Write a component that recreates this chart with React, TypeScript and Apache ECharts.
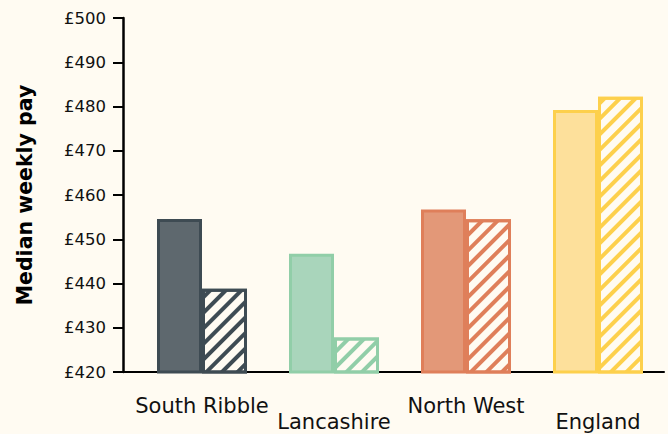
import React, { useEffect, useRef } from "react";
import * as echarts from "echarts";

// Median weekly pay by area, two periods per area
const categories = ["South Ribble", "Lancashire", "North West", "England"];
const paySolid = [454.6, 446.7, 456.7, 479.2];
const payHatched = [438.8, 427.8, 454.5, 482.2];
const yTicks = { min: 420, max: 500, interval: 10 };

const fillColors = ["#5e686e", "#a9d5bb", "#e39878", "#fde09b"];
const strokeColors = ["#3e4b53", "#91cea8", "#df7f5a", "#fdd04c"];
const BG = "#fffbf2";
const FONT = "DejaVu Sans";

export default function App() {
  const ref = useRef<HTMLDivElement>(null);

  useEffect(() => {
    document.body.style.margin = "0";
    document.body.style.background = BG;
    if (!ref.current) return;
    const chart = echarts.init(ref.current, undefined, { renderer: "svg" });

    const gridLeft = 136;
    const gridTop = 18;
    const gridBottom = 62;
    const axisOffset = 13;

    chart.setOption({
      animation: false,
      backgroundColor: BG,
      textStyle: { fontFamily: FONT },
      grid: { left: gridLeft, right: 4, top: gridTop, bottom: gridBottom },
      xAxis: {
        type: "category",
        data: categories,
        axisLine: { show: true, lineStyle: { color: "#000", width: 2 } },
        axisTick: { show: false },
        axisLabel: {
          color: "#111",
          fontSize: 21,
          fontFamily: FONT,
          margin: 26,
          lineHeight: 16,
          interval: 0,
          formatter: (v: string, i: number) => (i % 2 === 1 ? "\n" + v : v),
        },
      },
      yAxis: {
        type: "value",
        min: yTicks.min,
        max: yTicks.max,
        interval: yTicks.interval,
        offset: axisOffset,
        name: "Median weekly pay",
        nameLocation: "middle",
        nameGap: 88,
        nameRotate: 90,
        nameTextStyle: {
          color: "#000",
          fontSize: 20.5,
          fontWeight: "bold",
          fontFamily: FONT,
        },
        axisLine: { show: true, lineStyle: { color: "#000", width: 2.5 } },
        axisTick: { show: true, length: 10, lineStyle: { color: "#000", width: 2 } },
        axisLabel: {
          color: "#111",
          fontSize: 16.5,
          fontFamily: FONT,
          margin: 17,
          formatter: (v: number) => "£" + v,
        },
        splitLine: { show: false },
      },
      graphic: [
        {
          type: "line",
          shape: {
            x1: gridLeft - axisOffset - 10,
            y1: 434 - gridBottom,
            x2: gridLeft,
            y2: 434 - gridBottom,
          },
          style: { stroke: "#000", lineWidth: 2 },
          z: 10,
        },
      ],
      series: [
        {
          name: "A",
          type: "bar",
          barWidth: 45,
          barGap: "0%",
          data: paySolid.map((v, i) => ({
            value: v,
            itemStyle: {
              color: fillColors[i],
              borderColor: strokeColors[i],
              borderWidth: 3,
            },
          })),
        },
        {
          name: "B",
          type: "bar",
          barWidth: 45,
          barGap: "0%",
          data: payHatched.map((v, i) => ({
            value: v,
            itemStyle: {
              color: BG,
              borderColor: strokeColors[i],
              borderWidth: 3,
              decal: {
                symbol: "rect",
                color: strokeColors[i],
                dashArrayX: [1, 0],
                dashArrayY: [4, 6.5],
                rotation: -Math.PI / 4,
              },
            },
          })),
        },
      ],
    });

    return () => chart.dispose();
  }, []);

  return <div ref={ref} style={{ width: 668, height: 434 }} />;
}
